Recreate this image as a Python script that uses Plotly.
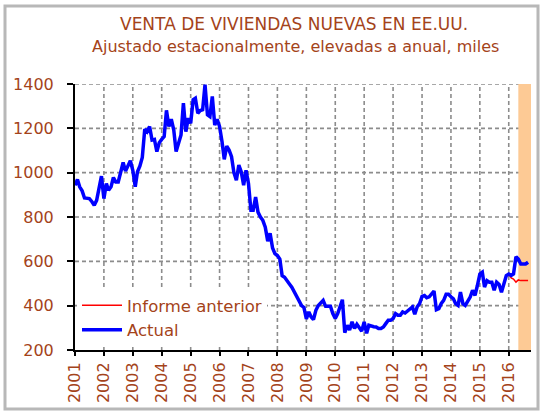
import pandas as pd
import plotly.graph_objects as go

# Monthly new home sales, SAAR thousands, Jan 2001 - Sep 2016
actual_values = [
    943, 969, 936, 918, 886, 884, 883, 870, 853, 875, 930, 984,          # 2001
    883, 951, 921, 936, 978, 958, 958, 1011, 1046, 1007, 1030, 1054,     # 2002
    1011, 936, 1004, 1030, 1069, 1196, 1185, 1208, 1147, 1150, 1095, 1135,  # 2003
    1150, 1163, 1281, 1208, 1241, 1193, 1095, 1140, 1170, 1314, 1185, 1246,  # 2004
    1223, 1329, 1336, 1268, 1280, 1284, 1397, 1261, 1253, 1344, 1215, 1241,  # 2005
    1208, 1140, 1060, 1120, 1102, 1072, 1000, 966, 1034, 1004, 943, 1011,    # 2006
    951, 830, 830, 890, 822, 800, 785, 754, 691, 727, 660, 635,              # 2007
    626, 610, 535, 528, 510, 498, 483, 460, 438, 423, 400, 392,              # 2008
    340, 372, 350, 337, 379, 401, 410, 424, 397, 397, 397, 364,              # 2009
    342, 364, 395, 427, 278, 312, 290, 327, 297, 316, 300, 285,              # 2010
    327, 275, 312, 307, 305, 304, 297, 297, 304, 319, 334, 334,              # 2011
    342, 364, 357, 357, 372, 367, 377, 387, 394, 361, 395, 409,              # 2012
    442, 446, 436, 440, 451, 466, 382, 387, 410, 424, 451, 451,              # 2013
    440, 431, 409, 401, 461, 409, 401, 420, 439, 469, 446, 491,              # 2014
    543, 551, 484, 513, 506, 506, 469, 506, 496, 461, 506, 536,              # 2015
    543, 536, 543, 621, 610, 588, 588, 588, 596,                             # 2016
]
actual_dates = pd.date_range("2001-01-01", periods=len(actual_values), freq="MS")

previous_values = [536, 543, 525, 520, 506, 516, 513, 513, 513, 513]
previous_dates = pd.date_range("2015-12-01", periods=len(previous_values), freq="MS")

band_start = "2016-05-01"
band_end = "2016-10-08"
y_min, y_max = 200, 1400

year_ticks = [f"{y}-01-01" for y in range(2001, 2017)]
year_labels = [str(y) for y in range(2001, 2017)]
y_ticks = [200, 400, 600, 800, 1000, 1200, 1400]

title_line1 = "VENTA DE VIVIENDAS NUEVAS EN EE.UU."
title_line2 = "Ajustado estacionalmente, elevadas a anual, miles"

BROWN = "#A4431A"
FONT = "DejaVu Sans"
GRID = "#8C8C8C"

fig = go.Figure()
fig.add_trace(go.Scatter(
    x=[band_start, band_end, band_end, band_start, band_start],
    y=[y_min, y_min, y_max, y_max, y_min],
    fill="toself", fillcolor="#FDCA95", line=dict(width=0),
    mode="lines", showlegend=False, hoverinfo="skip"))
fig.add_trace(go.Scatter(
    x=previous_dates, y=previous_values, name="Informe anterior",
    mode="lines", line=dict(color="#FF0000", width=1.5)))
fig.add_trace(go.Scatter(
    x=actual_dates, y=actual_values, name="Actual",
    mode="lines", line=dict(color="#0000FF", width=3.5)))

L, R, T, B = 75, 13, 84, 64
W, H = 544, 414
pw, ph = W - L - R, H - T - B

def px_x(p):
    return (p - L) / pw

def px_y(p):
    return (H - B - p) / ph

grid_line = dict(color=GRID, width=1.6, dash="4px,3px")
grid_shapes = []
for t in year_ticks[1:]:
    grid_shapes.append(dict(type="line", xref="x", yref="y", x0=t, x1=t,
                            y0=y_min, y1=y_max, line=grid_line, layer="below"))
for v in y_ticks[1:]:
    grid_shapes.append(dict(type="line", xref="paper", yref="y", x0=0, x1=1,
                            y0=v, y1=v, line=grid_line, layer="below"))

frame = dict(type="rect", xref="paper", yref="paper",
             x0=px_x(5), x1=px_x(538), y0=px_y(409), y1=px_y(6),
             line=dict(color="#B8B8B8", width=3), layer="above")

fig.update_layout(
    width=W, height=H,
    margin=dict(l=L, r=R, t=T, b=B, autoexpand=False),
    paper_bgcolor="white", plot_bgcolor="white",
    font=dict(family=FONT, color=BROWN, size=16),
    showlegend=True,
    legend=dict(x=px_x(77), y=px_y(288), xanchor="left", yanchor="top",
                bgcolor="white", borderwidth=0,
                font=dict(family=FONT, size=16.5, color=BROWN),
                itemwidth=40, tracegroupgap=0),
    xaxis=dict(type="date", range=["2001-01-01", band_end],
               tickvals=year_ticks, ticktext=year_labels, tickangle=-90,
               showgrid=False,
               showline=True, linecolor="black", linewidth=2,
               ticks="outside", ticklen=4, tickcolor="black", tickwidth=1.5,
               tickfont=dict(family=FONT, size=16, color=BROWN), zeroline=False),
    yaxis=dict(range=[y_min, y_max], tickvals=y_ticks,
               showgrid=False,
               showline=True, linecolor="black", linewidth=2,
               ticks="outside", ticklen=6, tickcolor="black", tickwidth=1.5,
               ticklabelstandoff=10,
               tickfont=dict(family=FONT, size=16, color=BROWN), zeroline=False),
    annotations=[
        dict(text=title_line1, xref="paper", yref="paper", x=px_x(294), y=px_y(24),
             xanchor="center", yanchor="middle", showarrow=False,
             font=dict(family=FONT, size=17, color=BROWN)),
        dict(text=title_line2, xref="paper", yref="paper", x=px_x(295), y=px_y(46),
             xanchor="center", yanchor="middle", showarrow=False,
             font=dict(family=FONT, size=16, color=BROWN)),
    ],
    shapes=grid_shapes + [frame],
)

fig.write_html("out.html",
               post_script="document.body.style.margin='0';"
                           "var mb=document.querySelector('.modebar-container');"
                           "if(mb){mb.style.display='none';}")
